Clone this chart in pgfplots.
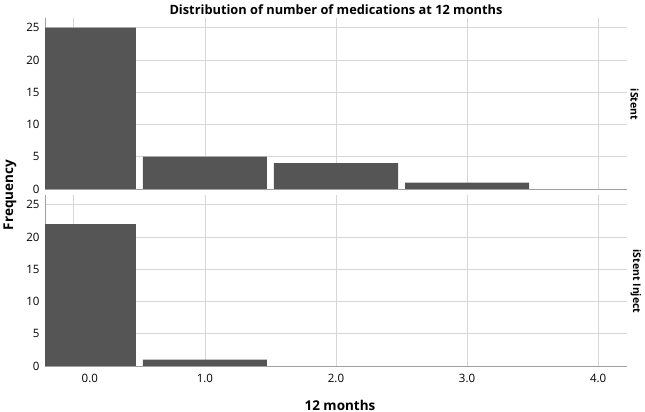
\documentclass[border=0pt]{standalone}
\usepackage{fontspec}
\setmainfont{Open Sans}
\usepackage{pgfplots}
\pgfplotsset{compat=1.18}
\definecolor{barfill}{HTML}{555555}
\definecolor{gridc}{HTML}{D6D6D6}
\definecolor{axc}{HTML}{A0A0A0}

\pgfplotsset{panel/.style={
  scale only axis, width=582pt, height=171pt,
  xmin=-0.22, xmax=4.22, ymin=0, ymax=26.5,
  axis x line*=bottom, axis y line*=left,
  axis line style={axc, line width=0.9pt},
  xtick={0,1,2,3,4}, ytick={0,5,...,25},
  xmajorgrids, ymajorgrids,
  grid style={gridc, line width=0.7pt},
  major tick length=0pt, tick style={draw=none},
  tick label style={font=\fontsize{11.5}{13}\selectfont},
  yticklabel style={xshift=-2pt},
  clip mode=individual,
  /pgf/number format/assume math mode=true,
}}

\begin{document}
\begin{tikzpicture}
\useasboundingbox (0,0) rectangle (645pt,412pt);

% iStent
\begin{axis}[panel, at={(45pt,223pt)}, anchor=south west, xticklabels=\empty]
\addplot[ybar, bar width=0.947, fill=barfill, draw=none]
  coordinates {(0,25) (1,5) (2,4) (3,1)};
\node[rotate=-90, anchor=south, font=\bfseries\fontsize{10.5}{12}\selectfont]
  at (rel axis cs:1,0.5) [xshift=1pt] {iStent};
\end{axis}

% iStent Inject
\begin{axis}[panel, at={(45pt,46pt)}, anchor=south west,
  xticklabels={\hspace*{32pt}0.0,1.0,2.0,3.0,4.0},
  xticklabel style={yshift=-5pt}]
\addplot[ybar, bar width=0.947, fill=barfill, draw=none]
  coordinates {(0,22) (1,1)};
\node[rotate=-90, anchor=south, font=\bfseries\fontsize{10.5}{12}\selectfont]
  at (rel axis cs:1,0.5) [xshift=1pt] {iStent Inject};
\end{axis}

\node[font=\bfseries\fontsize{12.8}{15}\selectfont] at (336pt,402pt)
  {Distribution of number of medications at 12 months};
\node[font=\bfseries\fontsize{13.5}{16}\selectfont] at (340pt,7pt) {12 months};
\node[rotate=90, font=\bfseries\fontsize{13.5}{16}\selectfont] at (10pt,217pt) {Frequency};
\end{tikzpicture}
\end{document}
